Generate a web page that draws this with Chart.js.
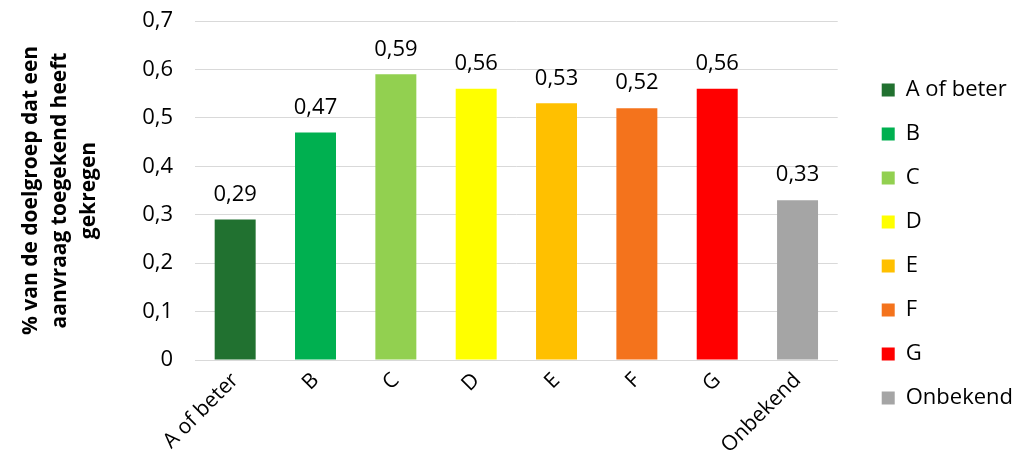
<!DOCTYPE html>
<html>
<head>
<meta charset="utf-8">
<script src="https://cdn.jsdelivr.net/npm/chart.js@4/dist/chart.umd.min.js"></script>
<style>
  html, body { margin: 0; padding: 0; background: #fff; }
  #wrap { width: 1036px; height: 467px; }
</style>
</head>
<body>
<div id="wrap"><canvas id="chart" width="1036" height="467"></canvas></div>
<script>
// chart data
const categories = ['A of beter', 'B', 'C', 'D', 'E', 'F', 'G', 'Onbekend'];
const values = [0.29, 0.47, 0.59, 0.56, 0.53, 0.52, 0.56, 0.33];
const barColors = ['#217130', '#00b050', '#92d050', '#ffff00', '#ffc000', '#f4731c', '#ff0000', '#a5a5a5'];
const yTicks = [0, 0.1, 0.2, 0.3, 0.4, 0.5, 0.6, 0.7];
const yTitle = ['% van de doelgroep dat een', 'aanvraag toegekend heeft', 'gekregen'];

const FONT = "'Open Sans', 'Noto Sans', sans-serif";

function fmt(v) {
  return v === 0 ? '0' : v.toFixed(2).replace(/0$/, '').replace('.', ',');
}

// value labels above the bars
const valueLabels = {
  id: 'valueLabels',
  afterDatasetsDraw(chart) {
    const ctx = chart.ctx;
    const meta = chart.getDatasetMeta(0);
    ctx.save();
    ctx.font = '22px ' + FONT;
    ctx.fillStyle = '#000';
    ctx.textAlign = 'center';
    ctx.textBaseline = 'middle';
    meta.data.forEach((bar, i) => {
      ctx.fillText(fmt(values[i]), bar.x, bar.y - 25);
    });
    ctx.restore();
  }
};

new Chart(document.getElementById('chart').getContext('2d'), {
  type: 'bar',
  data: {
    labels: categories,
    datasets: [{
      data: values,
      backgroundColor: barColors,
      borderWidth: 0,
      barPercentage: 0.51,
      categoryPercentage: 1
    }]
  },
  options: {
    responsive: false,
    animation: false,
    layout: { padding: { top: 21, right: 13, bottom: 0, left: 0 } },
    scales: {
      x: {
        grid: { display: false, drawTicks: false },
        border: { display: true, color: '#d9d9d9', width: 1 },
        ticks: {
          color: '#000',
          font: { family: FONT, size: 21 },
          maxRotation: 45,
          minRotation: 45,
          padding: 8,
          autoSkip: false
        },
        afterFit(scale) { scale.height = 107; }
      },
      y: {
        min: 0,
        max: 0.7,
        afterBuildTicks(scale) { scale.ticks = yTicks.map(v => ({ value: v })); },
        grid: { color: '#d9d9d9', lineWidth: 1, drawTicks: true, tickLength: 22, tickColor: 'rgba(0,0,0,0)' },
        border: { display: false },
        ticks: {
          color: '#000',
          font: { family: FONT, size: 22 },
          padding: 0,
          callback: v => fmt(v)
        },
        title: {
          display: true,
          text: yTitle,
          color: '#000',
          font: { family: FONT, size: 21, weight: 'bold', lineHeight: 1.38 },
          padding: { top: 17, bottom: 0 }
        },
        afterFit(scale) { scale.width = 195; }
      },
      spacer: {
        position: 'right',
        display: true,
        grid: { display: false, drawTicks: false },
        border: { display: false },
        ticks: { display: false },
        afterFit(scale) { scale.width = 22; }
      }
    },
    plugins: {
      legend: {
        position: 'right',
        labels: {
          color: '#000',
          font: { family: FONT, size: 22 },
          boxWidth: 13,
          boxHeight: 13,
          padding: 22,
          generateLabels(chart) {
            return categories.map((c, i) => ({
              text: c,
              fillStyle: barColors[i],
              strokeStyle: barColors[i],
              lineWidth: 0,
              fontColor: '#000',
              index: i
            }));
          }
        },
        onClick: null
      },
      tooltip: { enabled: false }
    }
  },
  plugins: [valueLabels]
});
</script>
</body>
</html>
